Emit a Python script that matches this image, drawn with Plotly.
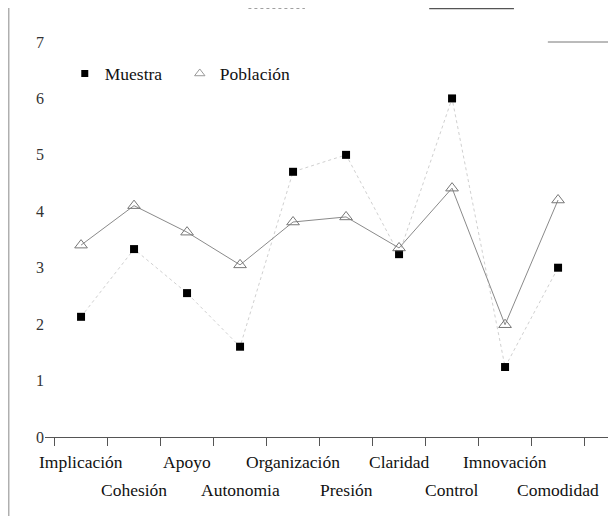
import plotly.graph_objects as go

categories = ["Implicación", "Cohesión", "Apoyo", "Autonomia", "Organización",
              "Presión", "Claridad", "Control", "Imnovación", "Comodidad"]
muestra = [2.13, 3.33, 2.55, 1.6, 4.7, 5.0, 3.24, 6.0, 1.24, 3.0]
poblacion = [3.4, 4.1, 3.63, 3.05, 3.81, 3.9, 3.35, 4.41, 1.99, 4.2]
y_ticks = [0, 1, 2, 3, 4, 5, 6, 7]

FONT = "Liberation Serif"
# the page body adds an 8px margin: compensate in the figure margins
L, R, T, B = 37, 14, 34, 87

fig = go.Figure()
fig.add_trace(go.Scatter(
    x=categories, y=muestra, name="Muestra", mode="lines+markers",
    line=dict(color="#d0d0d0", width=1, dash="dot"),
    marker=dict(symbol="square", size=8, color="black"),
    cliponaxis=False, showlegend=False,
))
fig.add_trace(go.Scatter(
    x=categories, y=poblacion, name="Población", mode="lines+markers",
    line=dict(color="#8a8a8a", width=1),
    marker=dict(symbol="triangle-up-open", size=11, color="#777777",
                line=dict(width=1)),
    cliponaxis=False, showlegend=False,
))
# legend entries (markers only, as in the reference)
fig.add_trace(go.Scatter(
    x=[None], y=[None], name="Muestra", mode="markers",
    marker=dict(symbol="square", size=7, color="black"),
))
fig.add_trace(go.Scatter(
    x=[None], y=[None], name="Población", mode="markers",
    marker=dict(symbol="triangle-up-open", size=9, color="#999999",
                line=dict(width=1)),
))

# two-row category labels
annotations = []
for i, c in enumerate(categories):
    annotations.append(dict(
        x=c, xref="x", y=-0.063 if i % 2 == 0 else -0.134, yref="paper",
        text=c, showarrow=False, xanchor="center", yanchor="middle",
        font=dict(family=FONT, size=17.5, color="#111111"),
    ))

fig.update_layout(
    width=616, height=516,
    margin=dict(l=L, r=R, t=T, b=B),
    paper_bgcolor="white", plot_bgcolor="white",
    font=dict(family=FONT, size=17, color="#222222"),
    showlegend=True,
    legend=dict(orientation="h", x=0.035, y=0.92, xanchor="left", yanchor="middle",
                bgcolor="rgba(0,0,0,0)", font=dict(family=FONT, size=17.5, color="#111111"),
                itemwidth=30, entrywidthmode="pixels", entrywidth=70,
                tracegroupgap=0),
    annotations=annotations,
    xaxis=dict(
        type="category", categoryorder="array", categoryarray=categories,
        showticklabels=False,
        range=[-0.68, 9.98], showgrid=False, zeroline=False, automargin=False,
        showline=True, linecolor="#555555", linewidth=1,
        ticks="outside", tickson="boundaries", ticklen=8, tickcolor="#555555",
    ),
    yaxis=dict(
        range=[0, 7], tickvals=y_ticks, showgrid=False, zeroline=False,
        showline=False, ticks="", automargin=False,
        tickfont=dict(family=FONT, size=16, color="#333333"),
    ),
    shapes=[
        dict(type="line", xref="paper", yref="paper", x0=-0.064, x1=-0.064,
             y0=-0.2, y1=1.1, line=dict(color="#888888", width=1)),
        dict(type="line", xref="paper", yref="paper", x0=1, x1=1,
             y0=0, y1=0.45, line=dict(color="#666666", width=1)),
        dict(type="line", xref="paper", yref="paper", x0=1, x1=1,
             y0=0.6, y1=0.87, line=dict(color="#666666", width=1, dash="dash")),
        dict(type="line", xref="paper", yref="paper", x0=0.89, x1=1,
             y0=1, y1=1, line=dict(color="#777777", width=1)),
        dict(type="line", xref="paper", yref="paper", x0=0.68, x1=0.83,
             y0=1.085, y1=1.085, line=dict(color="#555555", width=1.5)),
        dict(type="line", xref="paper", yref="paper", x0=0.36, x1=0.46,
             y0=1.085, y1=1.085, line=dict(color="#999999", width=1, dash="dot")),
    ],
)

fig.write_html("out.html")
